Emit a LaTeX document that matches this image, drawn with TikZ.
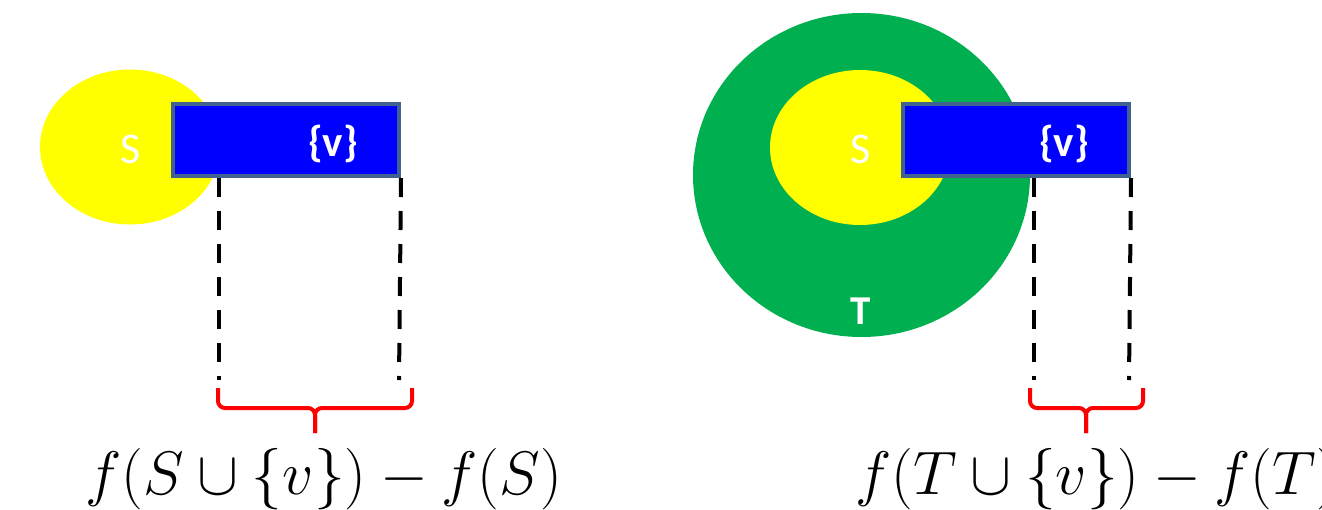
\documentclass[tikz,border=0pt]{standalone}
\usepackage{fontspec}
\setsansfont{Carlito}
\usetikzlibrary{shapes.geometric}
\definecolor{myyellow}{HTML}{FFFF00}
\definecolor{mygreen}{HTML}{00B050}
\definecolor{myblue}{HTML}{0000FF}
\definecolor{myborder}{HTML}{3F6290}
\definecolor{myred}{HTML}{FF0000}
\begin{document}
\begin{tikzpicture}[x=1pt,y=-1pt,
 setS/.style={ellipse, fill=myyellow, inner sep=0pt, minimum width=180pt, minimum height=155pt},
 setT/.style={ellipse, fill=mygreen, inner sep=0pt, minimum width=337pt, minimum height=324pt},
 vbox/.style={rectangle, fill=myblue, draw=myborder, line width=4pt, minimum width=226pt, minimum height=72pt, inner sep=0pt},
 lbl/.style={text=white, inner sep=0pt, font=\sffamily\fontsize{44}{48}\selectfont},
 blbl/.style={text=white, inner sep=0pt, font=\sffamily\bfseries\fontsize{43}{48}\selectfont},
 tlbl/.style={text=white, inner sep=0pt, font=\sffamily\bfseries\fontsize{41}{46}\selectfont},
 guide/.style={line width=4pt, dash pattern=on 19pt off 14pt},
 bracepath/.style={draw=myred, line width=4pt, rounded corners=7pt},
 formula/.style={inner sep=0pt, anchor=base west, font=\fontsize{24}{28}\selectfont}
]
\useasboundingbox (0,0) rectangle (1322,509);

% ---------- left picture ----------
\node[setS] (S1) at (130,147) {};
\node[vbox] (V1) at (286,140) {};
\node[lbl] (S1lbl) at (131,149.5) {S};
\node[blbl] (V1lbl) at (333,144) {\{v\}};
\coordinate (L1a) at (219,380);
\coordinate (L1b) at (399,380);
\draw[guide] (V1.south west -| L1a) -- (L1a);
\draw[guide] (V1.south east) -- (L1b);
\coordinate (B1l) at (218,388);
\coordinate (B1r) at (412,388);
\coordinate (B1m) at (315,408);
\coordinate (B1t) at (315,433);
\draw[bracepath] (B1l) |- (B1m) -- (B1t);
\draw[bracepath] (B1r) |- (B1m) -- (B1t);
\node[formula] (F1) at (85,494) {\scalebox{2.47}{$f(S\cup\{v\})-f(S)$}};

% ---------- right picture ----------
\node[setT] (T2) at (861.5,175) {};
\node[setS] (S2) at (860,147.5) {};
\node[vbox] (V2) at (1016,140) {};
\node[lbl] (S2lbl) at (861,149.5) {S};
\node[blbl] (V2lbl) at (1064,144) {\{v\}};
\node[tlbl] (T2lbl) at (861,311) {T};
\coordinate (L2a) at (1034,380);
\coordinate (L2b) at (1129,380);
\draw[guide] (V2.south west -| L2a) -- (L2a);
\draw[guide] (V2.south east) -- (L2b);
\coordinate (B2l) at (1030,388);
\coordinate (B2r) at (1143,388);
\coordinate (B2m) at (1086,408);
\coordinate (B2t) at (1086,433);
\draw[bracepath] (B2l) |- (B2m) -- (B2t);
\draw[bracepath] (B2r) |- (B2m) -- (B2t);
\node[formula] (F2) at (855,494) {\scalebox{2.47}{$f(T\cup\{v\})-f(T)$}};
\end{tikzpicture}
\end{document}
